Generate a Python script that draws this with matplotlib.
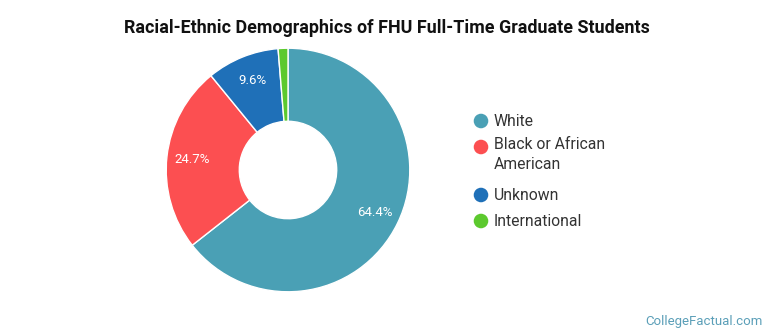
import numpy as np
import matplotlib.pyplot as plt

plt.rcParams["font.family"] = ["Roboto", "DejaVu Sans"]

labels = ["White", "Black or African\nAmerican", "Unknown", "International"]
shares = [64.4, 24.7, 9.6, 1.3]
colors = ["#4aa0b5", "#fc4f51", "#1f70b8", "#5cc92e"]
pct_text = ["64.4%", "24.7%", "9.6%", ""]

W, H = 770, 335
fig = plt.figure(figsize=(W / 100, H / 100), dpi=100)
fig.patch.set_facecolor("white")

# donut axes, placed in pixel terms
cx, cy, r = 288, 170, 123
ax = fig.add_axes([(cx - r) / W, (H - cy - r) / H, 2 * r / W, 2 * r / H])
ax.pie(shares, colors=colors, startangle=90, counterclock=False,
       radius=1.0, wedgeprops=dict(width=0.6, edgecolor="white", linewidth=1))
ax.set_xlim(-1.01, 1.01)
ax.set_ylim(-1.01, 1.01)
ax.set_aspect("equal")
ax.axis("off")

# percentage labels inside the ring
start = 90.0
for share, txt in zip(shares, pct_text):
    mid = start - share * 3.6 / 2
    start -= share * 3.6
    if not txt:
        continue
    a = np.deg2rad(mid)
    ax.text(0.79 * np.cos(a), 0.79 * np.sin(a), txt, color="white",
            ha="center", va="center", fontsize=9.5)

fig.text(387 / W, 1 - 28 / H, "Racial-Ethnic Demographics of FHU Full-Time Graduate Students",
         ha="center", va="center", fontsize=12.9, fontweight="bold", color="#111111")

# legend drawn by hand
lax = fig.add_axes([0, 0, 1, 1], facecolor="none")
lax.set_xlim(0, W)
lax.set_ylim(H, 0)
lax.axis("off")
y = 121
for lab, col in zip(labels, colors):
    lax.scatter([481], [y], s=110, color=col, edgecolors="none")
    if "\n" in lab:
        lax.text(494, y - 10, lab, ha="left", va="top", fontsize=11.3,
                 color="#333333", linespacing=1.4)
        y += 48
    else:
        lax.text(494, y, lab, ha="left", va="center", fontsize=11.3, color="#333333")
        y += 26

fig.text(763 / W, 1 - 321 / H, "CollegeFactual.com", ha="right", va="center",
         fontsize=9.5, color="#5b9fb8")

fig.savefig("out.png", dpi=100, facecolor="white")
